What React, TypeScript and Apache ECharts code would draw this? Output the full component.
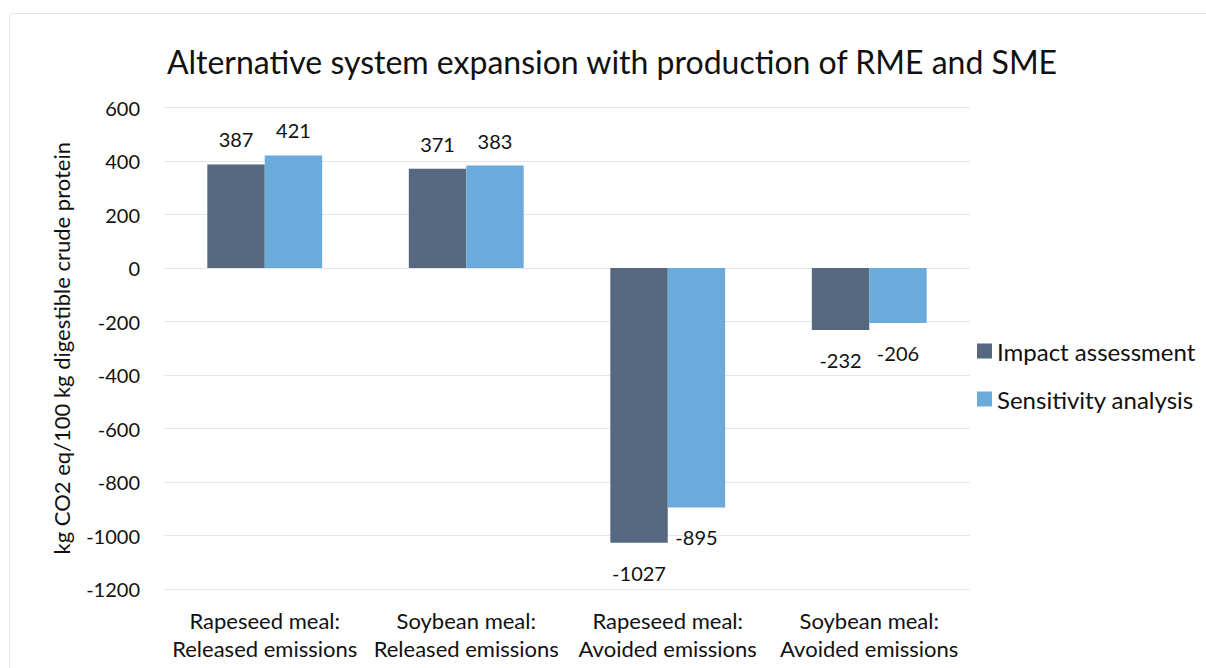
import React, { useEffect, useRef } from "react";
import * as echarts from "echarts";

const categories = [
  "Rapeseed meal:\nReleased emissions",
  "Soybean meal:\nReleased emissions",
  "Rapeseed meal:\nAvoided emissions",
  "Soybean meal:\nAvoided emissions",
];
const impactAssessment = [387, 371, -1027, -232];
const sensitivityAnalysis = [421, 383, -895, -206];
const seriesNames = ["Impact assessment", "Sensitivity analysis"];
const titleText = "Alternative system expansion with production of RME and SME";
const yAxisTitle = "kg CO2 eq/100 kg digestible crude protein";

const FONT = "Lato, 'Open Sans', sans-serif";
const TEXT = "#111111";

const withLabels = (values: number[]) =>
  values.map((v) => ({
    value: v,
    label: {
      position: v < 0 ? "bottom" : "top",
      distance: v < 0 ? 20 : 15,
    },
  }));

export default function App() {
  const ref = useRef<HTMLDivElement>(null);

  useEffect(() => {
    if (!ref.current) return;
    const chart = echarts.init(ref.current, undefined, { renderer: "svg" });
    const labelStyle = {
      show: true,
      fontFamily: FONT,
      fontSize: 20,
      color: TEXT,
    };
    chart.setOption({
      animation: false,
      backgroundColor: "#ffffff",
      graphic: [
        {
          type: "rect",
          shape: { x: 9.5, y: 13.5, width: 1220, height: 680, r: 3 },
          style: { fill: "none", stroke: "#e3e3e3", lineWidth: 1 },
          silent: true,
          z: -10,
        },
      ],
      title: {
        text: titleText,
        left: 607,
        top: 40,
        textAlign: "center",
        textStyle: {
          fontFamily: FONT,
          fontSize: 32,
          fontWeight: "normal",
          color: TEXT,
        },
      },
      legend: {
        orient: "vertical",
        left: 972,
        top: 334,
        itemWidth: 15,
        itemHeight: 15,
        itemGap: 24,
        icon: "rect",
        textStyle: { fontFamily: FONT, fontSize: 24, color: TEXT },
        data: seriesNames,
      },
      grid: { left: 164, right: 236, top: 107.5, bottom: 79 },
      xAxis: {
        type: "category",
        data: categories,
        axisLine: { show: false },
        axisTick: { show: false },
        axisLabel: {
          fontFamily: FONT,
          fontSize: 22,
          color: TEXT,
          lineHeight: 28,
          margin: 17,
          interval: 0,
        },
      },
      yAxis: {
        type: "value",
        min: -1200,
        max: 600,
        interval: 200,
        name: yAxisTitle,
        nameLocation: "middle",
        nameGap: 92,
        nameTextStyle: { fontFamily: FONT, fontSize: 22, color: TEXT },
        axisLine: { show: false },
        axisTick: { show: false },
        axisLabel: {
          fontFamily: FONT,
          fontSize: 20,
          color: TEXT,
          margin: 24,
          formatter: (v: number) => String(v),
        },
        splitLine: { lineStyle: { color: "#e6e6e6", width: 1 } },
      },
      series: [
        {
          name: seriesNames[0],
          type: "bar",
          data: withLabels(impactAssessment),
          itemStyle: { color: "#55687f" },
          barGap: "0%",
          barCategoryGap: "43%",
          label: labelStyle,
        },
        {
          name: seriesNames[1],
          type: "bar",
          data: withLabels(sensitivityAnalysis),
          itemStyle: { color: "#6aabdb" },
          barGap: "0%",
          barCategoryGap: "43%",
          label: labelStyle,
        },
      ],
    });
    return () => chart.dispose();
  }, []);

  return (
    <div
      ref={ref}
      style={{ position: "fixed", left: 0, top: 0, width: 1206, height: 668 }}
    />
  );
}
